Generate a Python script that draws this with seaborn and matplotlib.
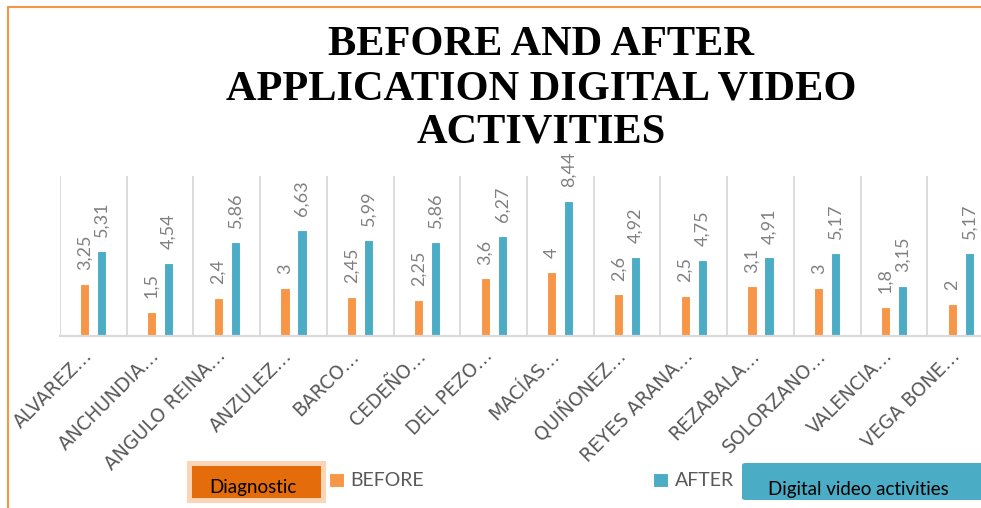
import numpy as np
import pandas as pd
import matplotlib
matplotlib.use("Agg")
import matplotlib.pyplot as plt
import matplotlib.patches as mpatches
from matplotlib.transforms import ScaledTranslation
import seaborn as sns

students = ["ALVAREZ…", "ANCHUNDIA…", "ANGULO REINA…", "ANZULEZ…", "BARCO…",
            "CEDEÑO…", "DEL PEZO…", "MACÍAS…", "QUIÑONEZ…", "REYES ARANA…",
            "REZABALA…", "SOLORZANO…", "VALENCIA…", "VEGA BONE…"]
before = [3.25, 1.5, 2.4, 3, 2.45, 2.25, 3.6, 4, 2.6, 2.5, 3.1, 3, 1.8, 2]
after = [5.31, 4.54, 5.86, 6.63, 5.99, 5.86, 6.27, 8.44, 4.92, 4.75, 4.91, 5.17, 3.15, 5.17]
series = ["BEFORE", "AFTER"]
title = "BEFORE AND AFTER\nAPPLICATION DIGITAL VIDEO\nACTIVITIES"

ORANGE = "#F79646"
BLUE = "#4BACC6"
GRID = "#D9D9D9"

df = pd.DataFrame({
    "student": students * 2,
    "score": before + after,
    "moment": [series[0]] * len(before) + [series[1]] * len(after),
})

sns.set_style("white")
plt.rcParams["font.family"] = ["Lato", "DejaVu Sans"]

W, H = 981, 508
fig = plt.figure(figsize=(W / 100, H / 100), dpi=100)

def fx(px):
    return px / W

def fy(py):
    return 1 - py / H

ax = fig.add_axes([fx(60), fy(336), fx(934), (336 - 176) / H])

sns.barplot(data=df, x="student", y="score", hue="moment", order=students,
            hue_order=series, palette=[ORANGE, BLUE], width=0.51, gap=0.47,
            ax=ax, legend=True, saturation=1, linewidth=0.8,
            edgecolor="#FFFFFF")

handles, labels = ax.get_legend_handles_labels()
ax.get_legend().remove()

ax.set_ylim(0, 10)
ax.set_xlim(-0.5, len(students) - 0.5)
ax.set_xlabel("")
ax.set_ylabel("")
ax.set_yticks([])

# value labels
for cont, vals in zip(ax.containers, [before, after]):
    ax.bar_label(cont, labels=[f"{v:g}".replace(".", ",") for v in vals],
                 rotation=90, padding=10, fontsize=13, color="#808080",
                 clip_on=False)

# category gridlines
ax.set_xticks(np.arange(-0.5, len(students), 1), minor=True)
ax.grid(False)
ax.grid(which="minor", axis="x", color=GRID, lw=1.3)
ax.tick_params(axis="x", which="both", length=0, pad=0)
for s in ["top", "right", "left"]:
    ax.spines[s].set_visible(False)
ax.spines["bottom"].set_color(GRID)
ax.spines["bottom"].set_linewidth(1.6)

off = ScaledTranslation(-4 / 100, -17 / 100, fig.dpi_scale_trans)
for lab in ax.get_xticklabels():
    lab.set_rotation(45)
    lab.set_ha("right")
    lab.set_va("center")
    lab.set_rotation_mode("anchor")
    lab.set_fontproperties({"family": "DejaVu Sans", "size": 13.5})
    lab.set_color("#595959")
    lab.set_transform(lab.get_transform() + off)

# title
fig.suptitle(title, x=fx(541), y=fy(89), ha="center", va="center",
             fontfamily=["Liberation Serif"], fontweight="bold", fontsize=30.5,
             linespacing=1.2, color="black")

# legend
fig.legend(handles, labels, loc="center left", bbox_to_anchor=(fx(329), fy(481)),
           ncol=2, frameon=False, fontsize=14, labelcolor="#595959",
           handlelength=0.75, handleheight=0.7, handletextpad=0.35,
           columnspacing=11.8, borderpad=0, borderaxespad=0)

# annotation boxes
fig.patches.append(mpatches.Rectangle((fx(187), fy(503)), fx(139), (503 - 461) / H,
                                      transform=fig.transFigure, facecolor="#FBD5B5",
                                      edgecolor="none"))
fig.patches.append(mpatches.Rectangle((fx(192), fy(498)), fx(129), (498 - 466) / H,
                                      transform=fig.transFigure, facecolor="#E46C0A",
                                      edgecolor="none"))
fig.text(fx(253), fy(487), "Diagnostic", ha="center", va="center",
         fontsize=13.5, color="black")

fig.patches.append(mpatches.FancyBboxPatch((fx(742), fy(500)), fx(260), (500 - 463) / H,
                                           boxstyle="round,pad=0,rounding_size=0.004",
                                           transform=fig.transFigure, facecolor=BLUE,
                                           edgecolor="none"))
fig.text(fx(858), fy(489), "Digital video activities", ha="center", va="center",
         fontsize=13.5, color="black")

# outer frame lines
fig.add_artist(plt.Line2D([fx(8), 1], [fy(7), fy(7)], color=ORANGE, lw=1.5,
                          transform=fig.transFigure))
fig.add_artist(plt.Line2D([fx(8), fx(8)], [fy(7), 0], color=ORANGE, lw=1.5,
                          transform=fig.transFigure))

fig.savefig("out.png", dpi=100)
